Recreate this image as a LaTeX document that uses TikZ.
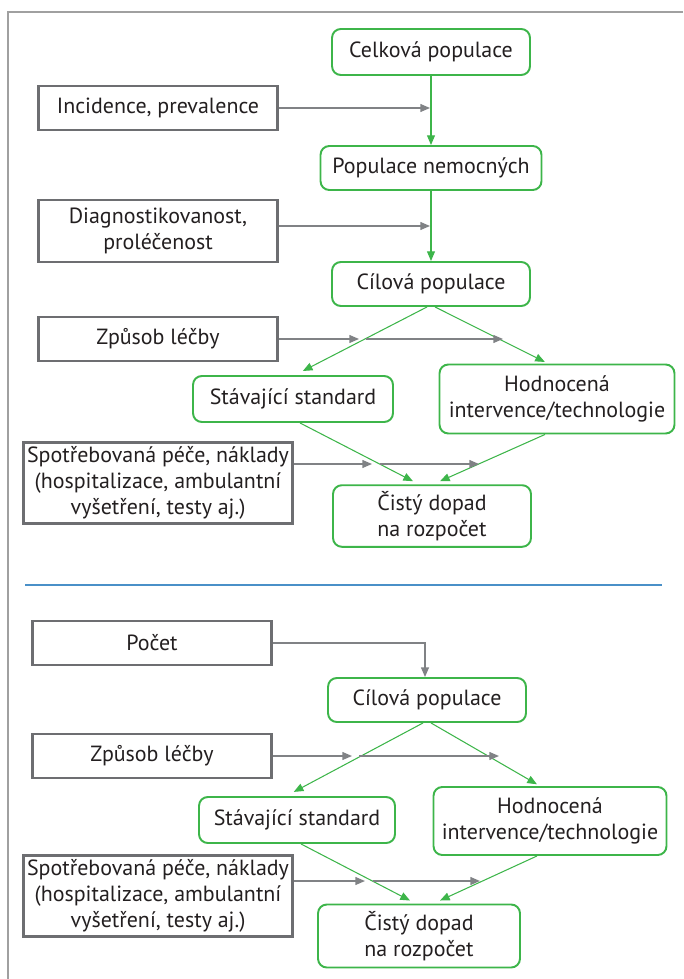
\documentclass[tikz,border=0pt]{standalone}
\usepackage{fontspec}
\setmainfont{PT Sans}
\usepackage{xcolor}
\usepackage{tikz}
\usetikzlibrary{arrows.meta}
\definecolor{boxgreen}{RGB}{61,181,74}
\definecolor{boxgray}{RGB}{109,110,113}
\definecolor{arrowgray}{RGB}{128,130,133}
\definecolor{linkblue}{RGB}{74,144,200}
\definecolor{framegray}{RGB}{160,160,160}
\definecolor{textdark}{RGB}{35,31,32}
\tikzset{
gbox/.style = {rectangle, rounded corners=5pt, draw=boxgreen, line width=1.1pt,
               text=textdark, align=center, minimum width=#1, minimum height=0.92cm},
gbox/.default = 3.96cm % width of the green box
}
\tikzset{
box/.style = {rectangle, draw=boxgray, line width=1.4pt, text=textdark,
              align=center, minimum width=#1, minimum height=0.88cm},
box/.default = 4.78cm, % width of the gray box
}
\tikzset{
garr/.style = {draw=boxgreen, line width=0.6pt},
parr/.style = {draw=arrowgray, line width=0.8pt}
}

\begin{document}
\begin{tikzpicture}[x=0.02cm, y=-0.02cm, font=\fontsize{12.5}{15}\selectfont,
    >={Triangle[length=5.5pt,width=4.5pt]}]

    \useasboundingbox (0,0) rectangle (683,979);
    \draw[framegray, line width=0.6pt] (683,12) -- (8,12) -- (8,979);
    \draw[linkblue, line width=0.8pt] (25,585) -- (662,585);

    % upper part
    \node[gbox] (celk) at (431,52) {Celková populace};
    \node[box] (incid) at (158,108) {Incidence, prevalence};
    \node[gbox=4.42cm, minimum height=0.88cm] (popnem) at (431,168) {Populace nemocných};
    \node[box, minimum height=1.24cm] (diag) at (158,231) {Diagnostikovanost,\\proléčenost};
    \node[gbox, minimum height=0.88cm] (cil) at (431,284) {Cílová populace};
    \node[box] (zpus) at (158,339) {Způsob léčby};
    \node[gbox=4cm] (stav) at (293,399) {Stávající standard};
    \node[gbox=4.7cm, minimum height=1.38cm] (hodn) at (557,399) {Hodnocená\\intervence/technologie};
    \node[box=5.36cm, minimum height=1.5cm, inner sep=2pt] (spot) at (158,483)
        {Spotřebovaná péče, náklady\\(hospitalizace, ambulantní\\vyšetření, testy aj.)};
    \node[gbox, minimum height=1.18cm] (cist) at (432,516) {Čistý dopad\\na rozpočet};

    \coordinate (incidEnd) at (430,108);
    \coordinate (diagEnd) at (430,226);
    \coordinate (zpusA) at (359,339);
    \coordinate (zpusB) at (366,339);
    \coordinate (zpusEnd) at (503,339);
    \coordinate (spotA) at (372,464);
    \coordinate (spotB) at (380,464);
    \coordinate (spotEnd) at (479,464);

\draw[garr,->]  (celk) -- (popnem);
\draw[garr,->]  (popnem) -- (cil);
\draw[parr,->]  (incid) -- (incidEnd);
\draw[parr,->]  (diag.east |- diagEnd) -- (diagEnd);
\draw[garr,->, shorten >=5pt]  ([xshift=-0.08cm]cil.south) -- ([xshift=0.04cm]stav.north);
\draw[garr,->, shorten >=2pt]  ([xshift=0.08cm]cil.south) -- ([xshift=-0.18cm]hodn.north);
\draw[parr,->]  (zpus) -- (zpusA);
\draw[parr,->]  (zpusB) -- (zpusEnd);
\draw[garr,->]  ([xshift=0.14cm]stav.south) -- ([xshift=-0.38cm,yshift=0.06cm]cist.north);
\draw[garr,->]  ([xshift=-0.24cm]hodn.south) -- ([xshift=0.16cm,yshift=0.06cm]cist.north);
\draw[parr,->]  (spot.east |- spotA) -- (spotA);
\draw[parr,->]  (spotB) -- (spotEnd);

    % lower part
    \node[box] (pocet) at (152,643) {Počet};
    \node[gbox, minimum height=0.88cm] (cil2) at (427,700) {Cílová populace};
    \node[box] (zpus2) at (152,756) {Způsob léčby};
    \node[gbox=3.92cm] (stav2) at (297,820) {Stávající standard};
    \node[gbox=4.66cm, minimum height=1.36cm] (hodn2) at (550,821) {Hodnocená\\intervence/technologie};
    \node[box=5.36cm, minimum height=1.5cm, inner sep=2pt] (spot2) at (158,896)
        {Spotřebovaná péče, náklady\\(hospitalizace, ambulantní\\vyšetření, testy aj.)};
    \node[gbox=4.04cm, minimum height=1.26cm] (cist2) at (419,936) {Čistý dopad\\na rozpočet};

    \coordinate (zpus2A) at (352,756);
    \coordinate (zpus2B) at (359,756);
    \coordinate (zpus2End) at (499,756);
    \coordinate (spot2A) at (365,881);
    \coordinate (spot2B) at (373,881);
    \coordinate (spot2End) at (480,881);

\draw[parr,->]  (pocet) -| ([xshift=-0.04cm]cil2.north);
\draw[garr,->, shorten >=5pt]  ([xshift=-0.08cm]cil2.south) -- ([xshift=-0.22cm]stav2.north);
\draw[garr,->, shorten >=2pt]  ([xshift=0.08cm]cil2.south) -- ([xshift=-0.2cm]hodn2.north);
\draw[parr,->]  (zpus2) -- (zpus2A);
\draw[parr,->]  (zpus2B) -- (zpus2End);
\draw[garr,->]  ([xshift=0.08cm]stav2.south) -- ([xshift=-0.18cm,yshift=0.06cm]cist2.north);
\draw[garr,->]  ([xshift=-0.26cm]hodn2.south) -- ([xshift=0.42cm,yshift=0.06cm]cist2.north);
\draw[parr,->]  (spot2.east |- spot2A) -- (spot2A);
\draw[parr,->]  (spot2B) -- (spot2End);
\end{tikzpicture}
\end{document}
